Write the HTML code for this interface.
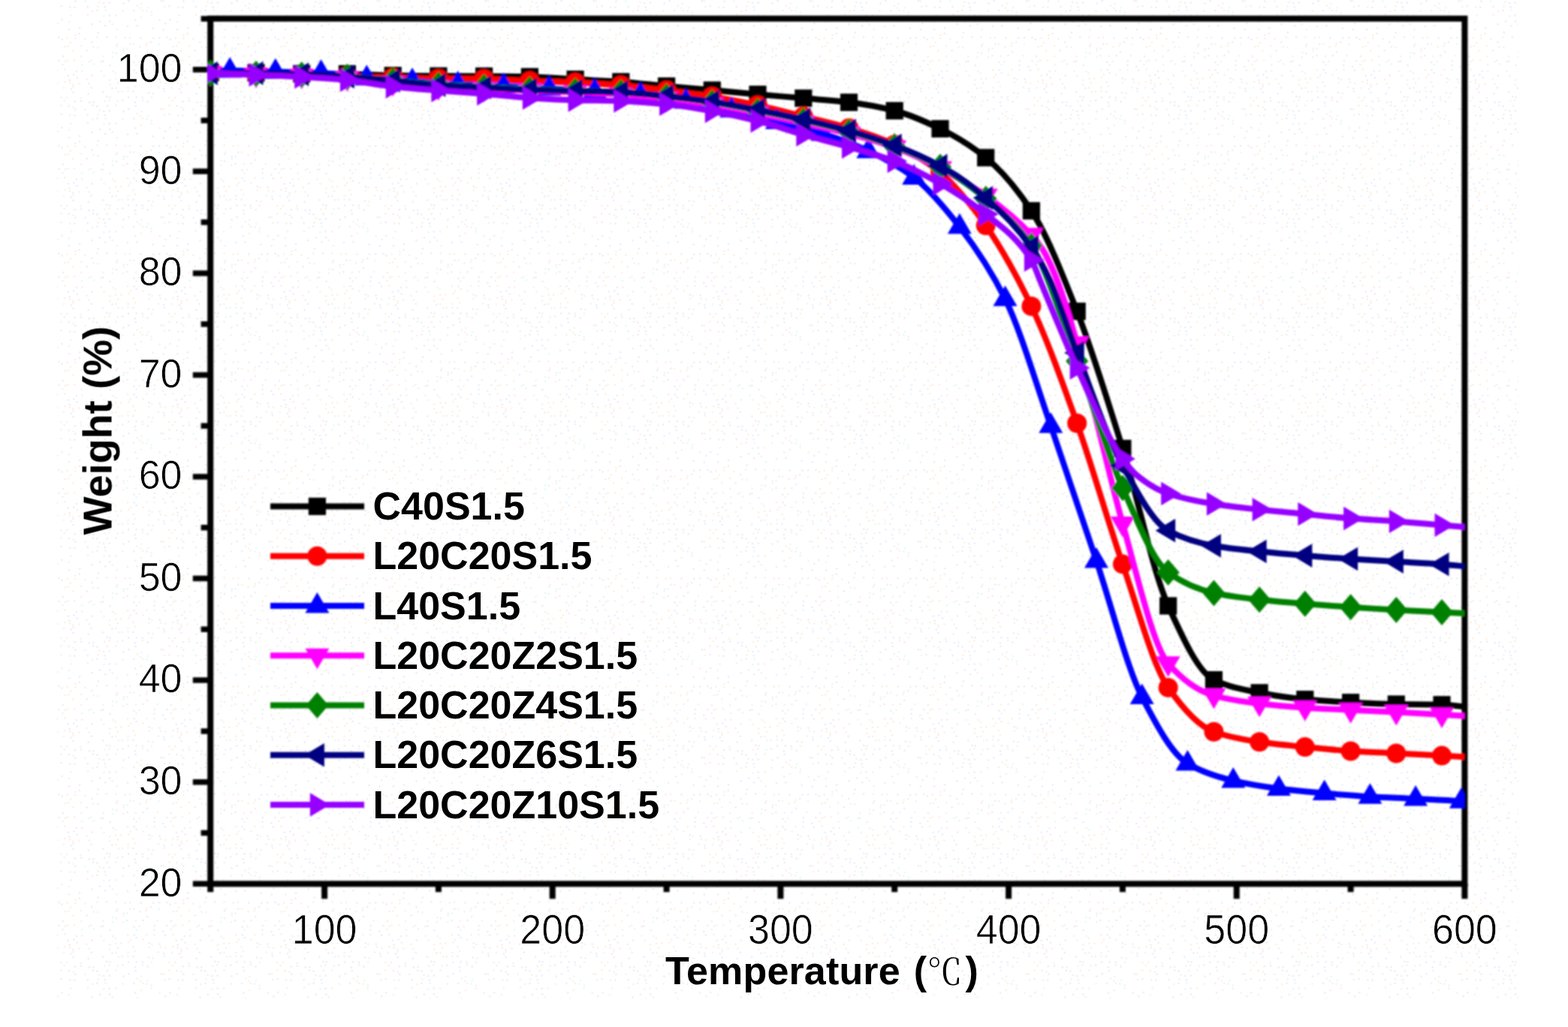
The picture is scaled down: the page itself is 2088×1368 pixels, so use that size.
<!DOCTYPE html>
<html lang="en">
<head>
<meta charset="utf-8">
<title>TGA curves – Weight (%) vs Temperature (℃)</title>
<style>
html,body{margin:0;padding:0;background:#fff;}
body{width:2088px;height:1368px;overflow:hidden;}
svg{display:block;}
text{font-family:"Liberation Sans","Noto Sans CJK SC",sans-serif;fill:#000;}
.tick{font-size:52px;stroke:#fff;stroke-width:0.7px;}
.ttl{font-size:52px;font-weight:bold;}
.leg{font-size:52px;font-weight:bold;}
.deg{font-family:"Liberation Serif","Noto Serif CJK SC",serif;font-weight:normal;}
</style>
</head>
<body>
<svg width="2088" height="1368" viewBox="0 0 2088 1368" role="img" aria-label="Thermogravimetric curves: Weight (%) versus Temperature (℃)">
<defs>
<filter id="soft" filterUnits="userSpaceOnUse" x="0" y="0" width="2088" height="1368"><feGaussianBlur stdDeviation="1.1"/></filter>
<filter id="softT" filterUnits="userSpaceOnUse" x="0" y="0" width="2088" height="1368"><feGaussianBlur stdDeviation="0.75"/></filter>
<clipPath id="plot"><rect x="276.2" y="24.8" width="1674.2" height="1152.5"/></clipPath>
</defs>
<rect width="2088" height="1368" fill="#ffffff"/>
<defs><pattern id="speckle" width="144" height="144" patternUnits="userSpaceOnUse"><circle cx="1.9" cy="3.6" r="1.5" fill="#f1f1fb"/><circle cx="20.5" cy="4.6" r="1.5" fill="#f1f1fb"/><circle cx="27.6" cy="1.3" r="1.5" fill="#f1f1fb"/><circle cx="44.4" cy="4.8" r="1.5" fill="#ebfafa"/><circle cx="70.9" cy="1.2" r="1.5" fill="#f1f1fb"/><circle cx="73.9" cy="1.5" r="1.5" fill="#fdf3ea"/><circle cx="100.4" cy="1.8" r="1.5" fill="#f1f1fb"/><circle cx="113.4" cy="1.8" r="1.5" fill="#ebfafa"/><circle cx="132.5" cy="2.8" r="1.5" fill="#fdf3ea"/><circle cx="138.1" cy="4.1" r="1.5" fill="#f1f1fb"/><circle cx="38.9" cy="7.5" r="1.5" fill="#fdf3ea"/><circle cx="43.1" cy="10.7" r="1.5" fill="#fdf3ea"/><circle cx="53.0" cy="10.1" r="1.5" fill="#ebfafa"/><circle cx="75.1" cy="9.0" r="1.5" fill="#fdf3ea"/><circle cx="81.6" cy="8.1" r="1.5" fill="#f1f1fb"/><circle cx="93.2" cy="9.6" r="1.5" fill="#fdf3ea"/><circle cx="99.3" cy="9.7" r="1.5" fill="#f1f1fb"/><circle cx="116.7" cy="9.0" r="1.5" fill="#f1f1fb"/><circle cx="130.5" cy="8.6" r="1.5" fill="#fdf3ea"/><circle cx="139.7" cy="9.2" r="1.5" fill="#f1f1fb"/><circle cx="19.5" cy="14.4" r="1.5" fill="#fdf3ea"/><circle cx="34.1" cy="13.9" r="1.5" fill="#f1f1fb"/><circle cx="46.0" cy="13.7" r="1.5" fill="#fdf3ea"/><circle cx="51.5" cy="14.5" r="1.5" fill="#ebfafa"/><circle cx="57.8" cy="16.4" r="1.5" fill="#ebfafa"/><circle cx="123.4" cy="14.9" r="1.5" fill="#fdf3ea"/><circle cx="129.4" cy="13.8" r="1.5" fill="#f1f1fb"/><circle cx="140.6" cy="13.4" r="1.5" fill="#ebfafa"/><circle cx="1.6" cy="20.5" r="1.5" fill="#f1f1fb"/><circle cx="10.2" cy="20.5" r="1.5" fill="#fdf3ea"/><circle cx="43.9" cy="22.9" r="1.5" fill="#fdf3ea"/><circle cx="57.6" cy="20.4" r="1.5" fill="#fdf3ea"/><circle cx="94.7" cy="20.4" r="1.5" fill="#ebfafa"/><circle cx="116.9" cy="19.4" r="1.5" fill="#fdf3ea"/><circle cx="138.3" cy="21.2" r="1.5" fill="#ebfafa"/><circle cx="2.3" cy="28.2" r="1.5" fill="#f1f1fb"/><circle cx="36.1" cy="26.4" r="1.5" fill="#f1f1fb"/><circle cx="68.6" cy="26.4" r="1.5" fill="#fdf3ea"/><circle cx="82.3" cy="25.9" r="1.5" fill="#f1f1fb"/><circle cx="91.9" cy="28.9" r="1.5" fill="#ebfafa"/><circle cx="133.0" cy="28.6" r="1.5" fill="#f1f1fb"/><circle cx="5.7" cy="32.3" r="1.5" fill="#fdf3ea"/><circle cx="26.0" cy="35.0" r="1.5" fill="#f1f1fb"/><circle cx="38.4" cy="34.2" r="1.5" fill="#f1f1fb"/><circle cx="76.3" cy="31.1" r="1.5" fill="#f1f1fb"/><circle cx="122.5" cy="32.2" r="1.5" fill="#f1f1fb"/><circle cx="140.3" cy="34.3" r="1.5" fill="#f1f1fb"/><circle cx="11.7" cy="39.3" r="1.5" fill="#ebfafa"/><circle cx="59.6" cy="37.7" r="1.5" fill="#f1f1fb"/><circle cx="73.8" cy="39.5" r="1.5" fill="#f1f1fb"/><circle cx="92.1" cy="39.2" r="1.5" fill="#f1f1fb"/><circle cx="106.1" cy="37.2" r="1.5" fill="#f1f1fb"/><circle cx="100.4" cy="46.8" r="1.5" fill="#fdf3ea"/><circle cx="105.7" cy="44.8" r="1.5" fill="#f1f1fb"/><circle cx="130.8" cy="43.5" r="1.5" fill="#f1f1fb"/><circle cx="10.5" cy="49.5" r="1.5" fill="#fdf3ea"/><circle cx="22.7" cy="50.6" r="1.5" fill="#fdf3ea"/><circle cx="29.0" cy="49.9" r="1.5" fill="#fdf3ea"/><circle cx="43.5" cy="50.4" r="1.5" fill="#f1f1fb"/><circle cx="60.3" cy="50.8" r="1.5" fill="#f1f1fb"/><circle cx="68.1" cy="50.2" r="1.5" fill="#f1f1fb"/><circle cx="78.5" cy="49.9" r="1.5" fill="#f1f1fb"/><circle cx="82.6" cy="52.6" r="1.5" fill="#f1f1fb"/><circle cx="89.8" cy="50.7" r="1.5" fill="#fdf3ea"/><circle cx="100.2" cy="51.1" r="1.5" fill="#fdf3ea"/><circle cx="113.3" cy="51.8" r="1.5" fill="#fdf3ea"/><circle cx="129.1" cy="49.4" r="1.5" fill="#fdf3ea"/><circle cx="142.1" cy="49.3" r="1.5" fill="#f1f1fb"/><circle cx="12.3" cy="58.7" r="1.5" fill="#fdf3ea"/><circle cx="29.3" cy="58.8" r="1.5" fill="#f1f1fb"/><circle cx="34.1" cy="58.7" r="1.5" fill="#fdf3ea"/><circle cx="51.7" cy="57.7" r="1.5" fill="#fdf3ea"/><circle cx="57.1" cy="56.0" r="1.5" fill="#f1f1fb"/><circle cx="68.0" cy="58.9" r="1.5" fill="#ebfafa"/><circle cx="93.9" cy="56.7" r="1.5" fill="#fdf3ea"/><circle cx="122.3" cy="55.9" r="1.5" fill="#f1f1fb"/><circle cx="11.1" cy="61.2" r="1.5" fill="#f1f1fb"/><circle cx="20.8" cy="64.5" r="1.5" fill="#fdf3ea"/><circle cx="25.5" cy="64.4" r="1.5" fill="#ebfafa"/><circle cx="42.5" cy="62.2" r="1.5" fill="#fdf3ea"/><circle cx="50.6" cy="61.0" r="1.5" fill="#fdf3ea"/><circle cx="86.8" cy="62.2" r="1.5" fill="#fdf3ea"/><circle cx="91.0" cy="61.3" r="1.5" fill="#fdf3ea"/><circle cx="108.0" cy="61.0" r="1.5" fill="#fdf3ea"/><circle cx="124.5" cy="62.6" r="1.5" fill="#fdf3ea"/><circle cx="130.4" cy="63.3" r="1.5" fill="#ebfafa"/><circle cx="6.4" cy="70.1" r="1.5" fill="#ebfafa"/><circle cx="11.0" cy="70.9" r="1.5" fill="#f1f1fb"/><circle cx="20.7" cy="67.6" r="1.5" fill="#ebfafa"/><circle cx="52.1" cy="69.0" r="1.5" fill="#f1f1fb"/><circle cx="97.2" cy="67.5" r="1.5" fill="#fdf3ea"/><circle cx="115.7" cy="67.2" r="1.5" fill="#f1f1fb"/><circle cx="5.8" cy="76.0" r="1.5" fill="#ebfafa"/><circle cx="20.2" cy="76.0" r="1.5" fill="#fdf3ea"/><circle cx="25.4" cy="74.1" r="1.5" fill="#f1f1fb"/><circle cx="36.9" cy="74.8" r="1.5" fill="#fdf3ea"/><circle cx="46.5" cy="74.1" r="1.5" fill="#f1f1fb"/><circle cx="65.9" cy="74.0" r="1.5" fill="#fdf3ea"/><circle cx="83.9" cy="74.9" r="1.5" fill="#f1f1fb"/><circle cx="108.1" cy="74.9" r="1.5" fill="#fdf3ea"/><circle cx="137.5" cy="74.9" r="1.5" fill="#fdf3ea"/><circle cx="34.3" cy="82.8" r="1.5" fill="#f1f1fb"/><circle cx="41.5" cy="82.0" r="1.5" fill="#fdf3ea"/><circle cx="61.9" cy="81.0" r="1.5" fill="#f1f1fb"/><circle cx="78.4" cy="80.9" r="1.5" fill="#f1f1fb"/><circle cx="86.7" cy="81.7" r="1.5" fill="#fdf3ea"/><circle cx="89.8" cy="80.4" r="1.5" fill="#fdf3ea"/><circle cx="99.0" cy="80.3" r="1.5" fill="#fdf3ea"/><circle cx="118.6" cy="81.9" r="1.5" fill="#fdf3ea"/><circle cx="121.4" cy="80.6" r="1.5" fill="#ebfafa"/><circle cx="134.6" cy="82.0" r="1.5" fill="#f1f1fb"/><circle cx="137.3" cy="81.6" r="1.5" fill="#f1f1fb"/><circle cx="2.6" cy="87.0" r="1.5" fill="#f1f1fb"/><circle cx="37.6" cy="86.6" r="1.5" fill="#ebfafa"/><circle cx="61.4" cy="86.8" r="1.5" fill="#f1f1fb"/><circle cx="73.3" cy="88.7" r="1.5" fill="#f1f1fb"/><circle cx="83.5" cy="86.1" r="1.5" fill="#fdf3ea"/><circle cx="108.9" cy="86.2" r="1.5" fill="#ebfafa"/><circle cx="124.9" cy="85.3" r="1.5" fill="#ebfafa"/><circle cx="6.4" cy="95.0" r="1.5" fill="#fdf3ea"/><circle cx="26.0" cy="93.2" r="1.5" fill="#fdf3ea"/><circle cx="34.6" cy="93.3" r="1.5" fill="#f1f1fb"/><circle cx="51.5" cy="93.1" r="1.5" fill="#fdf3ea"/><circle cx="61.5" cy="93.0" r="1.5" fill="#ebfafa"/><circle cx="76.0" cy="93.5" r="1.5" fill="#f1f1fb"/><circle cx="86.4" cy="92.5" r="1.5" fill="#fdf3ea"/><circle cx="101.9" cy="94.9" r="1.5" fill="#f1f1fb"/><circle cx="109.3" cy="94.6" r="1.5" fill="#fdf3ea"/><circle cx="134.6" cy="94.7" r="1.5" fill="#ebfafa"/><circle cx="9.7" cy="97.6" r="1.5" fill="#ebfafa"/><circle cx="30.0" cy="99.8" r="1.5" fill="#fdf3ea"/><circle cx="37.7" cy="97.0" r="1.5" fill="#f1f1fb"/><circle cx="46.5" cy="99.6" r="1.5" fill="#fdf3ea"/><circle cx="90.8" cy="100.8" r="1.5" fill="#f1f1fb"/><circle cx="98.3" cy="99.4" r="1.5" fill="#f1f1fb"/><circle cx="122.9" cy="100.4" r="1.5" fill="#f1f1fb"/><circle cx="138.5" cy="100.8" r="1.5" fill="#fdf3ea"/><circle cx="2.2" cy="106.5" r="1.5" fill="#fdf3ea"/><circle cx="10.4" cy="104.7" r="1.5" fill="#fdf3ea"/><circle cx="17.2" cy="104.4" r="1.5" fill="#fdf3ea"/><circle cx="27.4" cy="103.0" r="1.5" fill="#fdf3ea"/><circle cx="54.8" cy="104.2" r="1.5" fill="#f1f1fb"/><circle cx="58.3" cy="106.0" r="1.5" fill="#fdf3ea"/><circle cx="68.7" cy="105.4" r="1.5" fill="#f1f1fb"/><circle cx="92.6" cy="106.7" r="1.5" fill="#f1f1fb"/><circle cx="102.8" cy="103.6" r="1.5" fill="#f1f1fb"/><circle cx="115.7" cy="105.8" r="1.5" fill="#fdf3ea"/><circle cx="2.1" cy="112.7" r="1.5" fill="#fdf3ea"/><circle cx="13.0" cy="110.5" r="1.5" fill="#fdf3ea"/><circle cx="33.5" cy="109.3" r="1.5" fill="#fdf3ea"/><circle cx="54.8" cy="109.8" r="1.5" fill="#fdf3ea"/><circle cx="69.8" cy="109.4" r="1.5" fill="#fdf3ea"/><circle cx="76.2" cy="110.8" r="1.5" fill="#fdf3ea"/><circle cx="86.4" cy="109.1" r="1.5" fill="#fdf3ea"/><circle cx="92.8" cy="110.6" r="1.5" fill="#fdf3ea"/><circle cx="97.4" cy="112.7" r="1.5" fill="#fdf3ea"/><circle cx="105.4" cy="111.4" r="1.5" fill="#fdf3ea"/><circle cx="118.7" cy="111.5" r="1.5" fill="#fdf3ea"/><circle cx="5.3" cy="117.4" r="1.5" fill="#f1f1fb"/><circle cx="10.4" cy="116.9" r="1.5" fill="#fdf3ea"/><circle cx="26.5" cy="116.7" r="1.5" fill="#fdf3ea"/><circle cx="36.0" cy="115.0" r="1.5" fill="#fdf3ea"/><circle cx="66.9" cy="116.4" r="1.5" fill="#ebfafa"/><circle cx="74.2" cy="118.0" r="1.5" fill="#f1f1fb"/><circle cx="84.9" cy="116.9" r="1.5" fill="#ebfafa"/><circle cx="94.9" cy="118.5" r="1.5" fill="#f1f1fb"/><circle cx="97.5" cy="115.4" r="1.5" fill="#fdf3ea"/><circle cx="121.8" cy="116.8" r="1.5" fill="#f1f1fb"/><circle cx="14.0" cy="122.2" r="1.5" fill="#ebfafa"/><circle cx="18.5" cy="122.0" r="1.5" fill="#fdf3ea"/><circle cx="26.5" cy="121.6" r="1.5" fill="#ebfafa"/><circle cx="33.4" cy="122.0" r="1.5" fill="#f1f1fb"/><circle cx="53.9" cy="123.6" r="1.5" fill="#f1f1fb"/><circle cx="59.8" cy="124.3" r="1.5" fill="#fdf3ea"/><circle cx="74.8" cy="121.5" r="1.5" fill="#f1f1fb"/><circle cx="97.5" cy="123.1" r="1.5" fill="#f1f1fb"/><circle cx="117.7" cy="124.8" r="1.5" fill="#f1f1fb"/><circle cx="137.2" cy="122.4" r="1.5" fill="#f1f1fb"/><circle cx="2.5" cy="129.4" r="1.5" fill="#f1f1fb"/><circle cx="27.2" cy="129.5" r="1.5" fill="#f1f1fb"/><circle cx="37.8" cy="129.2" r="1.5" fill="#f1f1fb"/><circle cx="45.8" cy="129.7" r="1.5" fill="#f1f1fb"/><circle cx="58.0" cy="129.8" r="1.5" fill="#fdf3ea"/><circle cx="81.3" cy="130.0" r="1.5" fill="#fdf3ea"/><circle cx="89.1" cy="130.1" r="1.5" fill="#fdf3ea"/><circle cx="107.4" cy="130.8" r="1.5" fill="#fdf3ea"/><circle cx="142.3" cy="128.8" r="1.5" fill="#f1f1fb"/><circle cx="1.3" cy="133.6" r="1.5" fill="#fdf3ea"/><circle cx="12.7" cy="134.5" r="1.5" fill="#ebfafa"/><circle cx="19.1" cy="133.6" r="1.5" fill="#f1f1fb"/><circle cx="35.9" cy="136.2" r="1.5" fill="#f1f1fb"/><circle cx="46.0" cy="133.2" r="1.5" fill="#fdf3ea"/><circle cx="52.6" cy="135.5" r="1.5" fill="#f1f1fb"/><circle cx="85.7" cy="133.9" r="1.5" fill="#fdf3ea"/><circle cx="99.8" cy="135.3" r="1.5" fill="#f1f1fb"/><circle cx="108.1" cy="134.5" r="1.5" fill="#f1f1fb"/><circle cx="118.8" cy="136.3" r="1.5" fill="#f1f1fb"/><circle cx="124.4" cy="136.0" r="1.5" fill="#f1f1fb"/><circle cx="139.3" cy="134.8" r="1.5" fill="#fdf3ea"/><circle cx="10.5" cy="140.6" r="1.5" fill="#fdf3ea"/><circle cx="36.7" cy="141.0" r="1.5" fill="#f1f1fb"/><circle cx="81.4" cy="140.4" r="1.5" fill="#fdf3ea"/><circle cx="91.7" cy="141.0" r="1.5" fill="#f1f1fb"/><circle cx="97.8" cy="142.7" r="1.5" fill="#fdf3ea"/><circle cx="124.0" cy="140.5" r="1.5" fill="#f1f1fb"/><circle cx="129.4" cy="141.5" r="1.5" fill="#f1f1fb"/><circle cx="142.9" cy="141.0" r="1.5" fill="#f1f1fb"/></pattern></defs>
<g id="paper" filter="url(#softT)"><rect x="76" y="0" width="1946" height="1330" fill="url(#speckle)"/></g>
<g id="gfx" filter="url(#soft)">
<g id="axes" stroke="#000" fill="none">
<rect x="280.2" y="24.8" width="1670.2" height="1152.5" stroke-width="8.0"/>
<path d="M280.2,1177.2H256.8M280.2,1041.7H256.8M280.2,906.1H256.8M280.2,770.6H256.8M280.2,635H256.8M280.2,499.4H256.8M280.2,363.9H256.8M280.2,228.3H256.8M280.2,92.8H256.8" stroke-width="7.5"/>
<path d="M280.2,1109.5H267.6M280.2,973.9H267.6M280.2,838.3H267.6M280.2,702.8H267.6M280.2,567.2H267.6M280.2,431.7H267.6M280.2,296.1H267.6M280.2,160.5H267.6M280.2,25H267.6" stroke-width="7.5"/>
<path d="M432.1,1177.2V1197.2M735.7,1177.2V1197.2M1039.4,1177.2V1197.2M1343.1,1177.2V1197.2M1646.7,1177.2V1197.2M1950.4,1177.2V1197.2" stroke-width="8"/>
<path d="M280.2,1177.2V1188.2M583.9,1177.2V1188.2M887.6,1177.2V1188.2M1191.2,1177.2V1188.2M1494.9,1177.2V1188.2M1798.6,1177.2V1188.2" stroke-width="8"/>
</g>
<g id="series" clip-path="url(#plot)">
<g id="s-black">
<path d="M280.2,96.5C300.5,96.5 320.7,96.7 341,97C361.2,97.2 381.5,98 401.7,98.2C422,98.3 442.2,98.3 462.4,98.4C482.7,98.6 502.9,100.3 523.2,100.6C543.4,100.9 563.7,101 583.9,101.2C604.2,101.3 624.4,101.3 644.6,101.4C664.9,101.6 685.1,101.8 705.4,102.2C725.6,102.7 745.9,104.5 766.1,105.6C786.4,106.7 806.6,107.5 826.8,108.9C847.1,110.3 867.3,112.8 887.6,114.7C907.8,116.6 928.1,118.3 948.3,120.1C968.6,122 988.8,123.9 1009,125.7C1029.3,127.5 1049.5,129.1 1069.8,130.8C1090,132.6 1110.3,133.8 1130.5,136.3C1150.8,138.7 1171,142.4 1191.2,147.5C1211.5,152.6 1231.7,161.7 1252,171.5C1272.2,181.4 1292.5,193.4 1312.7,210C1333,226.6 1353.2,249.9 1373.4,280.8C1393.7,311.6 1413.9,363.2 1434.2,414.7C1454.4,466.2 1474.7,532.4 1494.9,597.4C1515.1,662.5 1535.4,762.3 1555.6,807C1575.9,851.7 1596.1,895.8 1616.4,905.6C1636.6,915.4 1656.9,918.9 1677.1,922.8C1697.3,926.7 1717.6,929.8 1737.8,931.6C1758.1,933.5 1778.3,934.7 1798.6,935.7C1818.8,936.7 1839.1,937.6 1859.3,938C1879.5,938.3 1899.8,938.2 1920,938.7C1930.2,938.9 1940.3,940.2 1950.4,941.4" fill="none" stroke="#000000" stroke-width="8.0" stroke-linejoin="round"/>
<rect x="268.6" y="84.9" width="23.2" height="23.2" fill="#000000"/><rect x="329.4" y="85.4" width="23.2" height="23.2" fill="#000000"/><rect x="390.1" y="86.6" width="23.2" height="23.2" fill="#000000"/><rect x="450.8" y="86.8" width="23.2" height="23.2" fill="#000000"/><rect x="511.6" y="89" width="23.2" height="23.2" fill="#000000"/><rect x="572.3" y="89.6" width="23.2" height="23.2" fill="#000000"/><rect x="633" y="89.8" width="23.2" height="23.2" fill="#000000"/><rect x="693.8" y="90.6" width="23.2" height="23.2" fill="#000000"/><rect x="754.5" y="94" width="23.2" height="23.2" fill="#000000"/><rect x="815.2" y="97.3" width="23.2" height="23.2" fill="#000000"/><rect x="876" y="103.1" width="23.2" height="23.2" fill="#000000"/><rect x="936.7" y="108.5" width="23.2" height="23.2" fill="#000000"/><rect x="997.4" y="114.1" width="23.2" height="23.2" fill="#000000"/><rect x="1058.2" y="119.2" width="23.2" height="23.2" fill="#000000"/><rect x="1118.9" y="124.7" width="23.2" height="23.2" fill="#000000"/><rect x="1179.6" y="135.9" width="23.2" height="23.2" fill="#000000"/><rect x="1240.4" y="159.9" width="23.2" height="23.2" fill="#000000"/><rect x="1301.1" y="198.4" width="23.2" height="23.2" fill="#000000"/><rect x="1361.8" y="269.2" width="23.2" height="23.2" fill="#000000"/><rect x="1422.6" y="403.1" width="23.2" height="23.2" fill="#000000"/><rect x="1483.3" y="585.8" width="23.2" height="23.2" fill="#000000"/><rect x="1544" y="795.4" width="23.2" height="23.2" fill="#000000"/><rect x="1604.8" y="894" width="23.2" height="23.2" fill="#000000"/><rect x="1665.5" y="911.2" width="23.2" height="23.2" fill="#000000"/><rect x="1726.2" y="920" width="23.2" height="23.2" fill="#000000"/><rect x="1787" y="924.1" width="23.2" height="23.2" fill="#000000"/><rect x="1847.7" y="926.4" width="23.2" height="23.2" fill="#000000"/><rect x="1908.4" y="927.1" width="23.2" height="23.2" fill="#000000"/>
</g>
<g id="s-red">
<path d="M280.2,97.5C300.5,97.6 320.7,97.9 341,98.2C361.2,98.5 381.5,99 401.7,99.5C422,100.1 442.2,100.9 462.4,101.6C482.7,102.2 502.9,103.1 523.2,103.6C543.4,104.1 563.7,104.8 583.9,105C604.2,105.1 624.4,105.1 644.6,105.2C664.9,105.4 685.1,107.2 705.4,107.9C725.6,108.7 745.9,109.1 766.1,110C786.4,110.8 806.6,112.1 826.8,113.8C847.1,115.4 867.3,118.1 887.6,120.5C907.8,123 928.1,125.5 948.3,128.7C968.6,131.9 988.8,135.9 1009,140.2C1029.3,144.5 1049.5,150 1069.8,155.1C1090,160.2 1110.3,164.5 1130.5,170.6C1150.8,176.6 1171,183.2 1191.2,192.4C1211.5,201.6 1231.7,213.7 1252,229.7C1262.1,237.7 1272.2,249.3 1282.3,260.8C1292.5,272.4 1302.6,285.3 1312.7,300.2C1333,329.9 1353.2,365.5 1373.4,407.9C1393.7,450.4 1413.9,507.1 1434.2,563.8C1454.4,620.6 1474.7,693 1494.9,751.4C1515.1,809.9 1535.4,887 1555.6,915.9C1575.9,944.8 1596.1,967.4 1616.4,974.7C1636.6,982.1 1656.9,985.3 1677.1,988.3C1697.3,991.3 1717.6,993 1737.8,995.1C1758.1,997.1 1778.3,999.2 1798.6,1000.5C1818.8,1001.8 1839.1,1002.4 1859.3,1003.5C1879.5,1004.5 1899.8,1005.5 1920,1006.6C1930.2,1007.1 1940.3,1007.7 1950.4,1008.2" fill="none" stroke="#ff0000" stroke-width="8.0" stroke-linejoin="round"/>
<circle cx="280.2" cy="97.5" r="13" fill="#ff0000"/><circle cx="341" cy="98.2" r="13" fill="#ff0000"/><circle cx="401.7" cy="99.5" r="13" fill="#ff0000"/><circle cx="462.4" cy="101.6" r="13" fill="#ff0000"/><circle cx="523.2" cy="103.6" r="13" fill="#ff0000"/><circle cx="583.9" cy="105" r="13" fill="#ff0000"/><circle cx="644.6" cy="105.2" r="13" fill="#ff0000"/><circle cx="705.4" cy="107.9" r="13" fill="#ff0000"/><circle cx="766.1" cy="110" r="13" fill="#ff0000"/><circle cx="826.8" cy="113.8" r="13" fill="#ff0000"/><circle cx="887.6" cy="120.5" r="13" fill="#ff0000"/><circle cx="948.3" cy="128.7" r="13" fill="#ff0000"/><circle cx="1009" cy="140.2" r="13" fill="#ff0000"/><circle cx="1069.8" cy="155.1" r="13" fill="#ff0000"/><circle cx="1130.5" cy="170.6" r="13" fill="#ff0000"/><circle cx="1191.2" cy="192.4" r="13" fill="#ff0000"/><circle cx="1252" cy="229.7" r="13" fill="#ff0000"/><circle cx="1312.7" cy="300.2" r="13" fill="#ff0000"/><circle cx="1373.4" cy="407.9" r="13" fill="#ff0000"/><circle cx="1434.2" cy="563.8" r="13" fill="#ff0000"/><circle cx="1494.9" cy="751.4" r="13" fill="#ff0000"/><circle cx="1555.6" cy="915.9" r="13" fill="#ff0000"/><circle cx="1616.4" cy="974.7" r="13" fill="#ff0000"/><circle cx="1677.1" cy="988.3" r="13" fill="#ff0000"/><circle cx="1737.8" cy="995.1" r="13" fill="#ff0000"/><circle cx="1798.6" cy="1000.5" r="13" fill="#ff0000"/><circle cx="1859.3" cy="1003.5" r="13" fill="#ff0000"/><circle cx="1920" cy="1006.6" r="13" fill="#ff0000"/>
</g>
<g id="s-blue">
<path d="M280.2,94.1C288.9,94.1 297.5,94.1 306.1,94.1C326.3,94.1 346.5,95 366.8,95.5C387,96 407.3,96.2 427.5,97.1C447.8,98 468,102.7 488.3,104.3C508.5,105.9 528.7,106.6 549,107.9C569.2,109.3 589.5,111.2 609.7,112.3C630,113.3 650.2,113.8 670.5,114.7C690.7,115.6 710.9,116.8 731.2,118C751.4,119.1 771.7,120.2 791.9,121.6C812.2,123 832.4,124.5 852.7,126.6C872.9,128.7 893.1,131.9 913.4,135.2C933.6,138.5 953.9,142.5 974.1,147C994.4,151.5 1014.6,157.4 1034.9,162.6C1055.1,167.8 1075.3,172 1095.6,178.2C1115.8,184.4 1136.1,191.9 1156.3,201.2C1176.6,210.5 1196.8,221.2 1217.1,236.4C1237.3,251.7 1257.5,276 1277.8,302.1C1298,328.1 1318.3,357.4 1338.5,398.3C1358.8,439.2 1379,509.1 1399.3,567.2C1419.5,625.3 1439.7,686.9 1460,747.1C1480.2,807.3 1500.5,888.7 1520.7,928.4C1541,968 1561.2,1004.9 1581.4,1017C1601.7,1029.2 1621.9,1035.1 1642.2,1039.9C1662.4,1044.7 1682.7,1047.9 1702.9,1050.5C1723.2,1053.1 1743.4,1054.8 1763.6,1056.6C1783.9,1058.3 1804.1,1060.1 1824.4,1061.2C1844.6,1062.3 1864.9,1062.9 1885.1,1063.9C1905.4,1064.9 1925.6,1065.5 1945.8,1067.2C1947.4,1067.3 1948.9,1067.5 1950.4,1067.7" fill="none" stroke="#0000ff" stroke-width="8.0" stroke-linejoin="round"/>
<polygon points="306.1,76.1 322.1,103.6 290.1,103.6" fill="#0000ff"/><polygon points="366.8,77.5 382.8,105 350.8,105" fill="#0000ff"/><polygon points="427.5,79.1 443.5,106.6 411.5,106.6" fill="#0000ff"/><polygon points="488.3,86.3 504.3,113.8 472.3,113.8" fill="#0000ff"/><polygon points="549,89.9 565,117.4 533,117.4" fill="#0000ff"/><polygon points="609.7,94.3 625.7,121.8 593.7,121.8" fill="#0000ff"/><polygon points="670.5,96.7 686.5,124.2 654.5,124.2" fill="#0000ff"/><polygon points="731.2,100 747.2,127.5 715.2,127.5" fill="#0000ff"/><polygon points="791.9,103.6 807.9,131.1 775.9,131.1" fill="#0000ff"/><polygon points="852.7,108.6 868.7,136.1 836.7,136.1" fill="#0000ff"/><polygon points="913.4,117.2 929.4,144.7 897.4,144.7" fill="#0000ff"/><polygon points="974.1,129 990.1,156.5 958.1,156.5" fill="#0000ff"/><polygon points="1034.9,144.6 1050.9,172.1 1018.9,172.1" fill="#0000ff"/><polygon points="1095.6,160.2 1111.6,187.7 1079.6,187.7" fill="#0000ff"/><polygon points="1156.3,183.2 1172.3,210.7 1140.3,210.7" fill="#0000ff"/><polygon points="1217.1,218.4 1233.1,245.9 1201.1,245.9" fill="#0000ff"/><polygon points="1277.8,284.1 1293.8,311.6 1261.8,311.6" fill="#0000ff"/><polygon points="1338.5,380.3 1354.5,407.8 1322.5,407.8" fill="#0000ff"/><polygon points="1399.3,549.2 1415.3,576.7 1383.3,576.7" fill="#0000ff"/><polygon points="1460,729.1 1476,756.6 1444,756.6" fill="#0000ff"/><polygon points="1520.7,910.4 1536.7,937.9 1504.7,937.9" fill="#0000ff"/><polygon points="1581.4,999 1597.4,1026.5 1565.4,1026.5" fill="#0000ff"/><polygon points="1642.2,1021.9 1658.2,1049.4 1626.2,1049.4" fill="#0000ff"/><polygon points="1702.9,1032.5 1718.9,1060 1686.9,1060" fill="#0000ff"/><polygon points="1763.6,1038.6 1779.6,1066.1 1747.6,1066.1" fill="#0000ff"/><polygon points="1824.4,1043.2 1840.4,1070.7 1808.4,1070.7" fill="#0000ff"/><polygon points="1885.1,1045.9 1901.1,1073.4 1869.1,1073.4" fill="#0000ff"/><polygon points="1945.8,1049.2 1961.8,1076.7 1929.8,1076.7" fill="#0000ff"/>
</g>
<g id="s-magenta">
<path d="M280.2,97.5C300.5,98.3 320.7,99 341,99.5C361.2,100.1 381.5,100.2 401.7,100.9C422,101.5 442.2,102.8 462.4,104.3C482.7,105.7 502.9,108.4 523.2,110.4C543.4,112.3 563.7,115 583.9,116.1C604.2,117.1 624.4,117.5 644.6,118.2C664.9,119 685.1,119.8 705.4,120.5C725.6,121.3 745.9,122.1 766.1,123C786.4,123.9 806.6,124.6 826.8,126C847.1,127.3 867.3,129.6 887.6,131.8C907.8,134 928.1,136.4 948.3,139.5C968.6,142.6 988.8,147 1009,151C1029.3,155.1 1049.5,159.4 1069.8,163.9C1090,168.4 1110.3,172.8 1130.5,178.2C1150.8,183.5 1171,189.1 1191.2,196.5C1211.5,203.8 1231.7,213.7 1252,224.2C1272.2,234.8 1292.5,246.5 1312.7,260.8C1333,275.2 1353.2,291.2 1373.4,313C1378.5,318.5 1383.6,324.7 1388.6,332.7C1393.7,340.7 1398.7,351.9 1403.8,363.9C1408.9,375.8 1413.9,390.5 1419,405.9C1424,421.3 1429.1,439 1434.2,457.4C1444.3,494.1 1454.4,538.1 1464.5,578.1C1474.7,618.1 1484.8,662 1494.9,697.4C1515.1,768.1 1535.4,860.6 1555.6,883.8C1575.9,906.9 1596.1,920.7 1616.4,926.5C1636.6,932.2 1656.9,934.9 1677.1,937.3C1697.3,939.7 1717.6,941.4 1737.8,942.7C1758.1,944 1778.3,944.7 1798.6,945.7C1818.8,946.7 1839.1,947.5 1859.3,948.6C1879.5,949.6 1899.8,950.8 1920,951.9C1930.2,952.5 1940.3,953 1950.4,953.6" fill="none" stroke="#ff00ff" stroke-width="8.0" stroke-linejoin="round"/>
<polygon points="280.2,115.5 296.2,88 264.2,88" fill="#ff00ff"/><polygon points="341,117.5 357,90 325,90" fill="#ff00ff"/><polygon points="401.7,118.9 417.7,91.4 385.7,91.4" fill="#ff00ff"/><polygon points="462.4,122.3 478.4,94.8 446.4,94.8" fill="#ff00ff"/><polygon points="523.2,128.4 539.2,100.9 507.2,100.9" fill="#ff00ff"/><polygon points="583.9,134.1 599.9,106.6 567.9,106.6" fill="#ff00ff"/><polygon points="644.6,136.2 660.6,108.7 628.6,108.7" fill="#ff00ff"/><polygon points="705.4,138.5 721.4,111 689.4,111" fill="#ff00ff"/><polygon points="766.1,141 782.1,113.5 750.1,113.5" fill="#ff00ff"/><polygon points="826.8,144 842.8,116.5 810.8,116.5" fill="#ff00ff"/><polygon points="887.6,149.8 903.6,122.3 871.6,122.3" fill="#ff00ff"/><polygon points="948.3,157.5 964.3,130 932.3,130" fill="#ff00ff"/><polygon points="1009,169 1025,141.5 993,141.5" fill="#ff00ff"/><polygon points="1069.8,181.9 1085.8,154.4 1053.8,154.4" fill="#ff00ff"/><polygon points="1130.5,196.2 1146.5,168.7 1114.5,168.7" fill="#ff00ff"/><polygon points="1191.2,214.5 1207.2,187 1175.2,187" fill="#ff00ff"/><polygon points="1252,242.2 1268,214.7 1236,214.7" fill="#ff00ff"/><polygon points="1312.7,278.8 1328.7,251.3 1296.7,251.3" fill="#ff00ff"/><polygon points="1373.4,331 1389.4,303.5 1357.4,303.5" fill="#ff00ff"/><polygon points="1434.2,475.4 1450.2,447.9 1418.2,447.9" fill="#ff00ff"/><polygon points="1494.9,715.4 1510.9,687.9 1478.9,687.9" fill="#ff00ff"/><polygon points="1555.6,901.8 1571.6,874.3 1539.6,874.3" fill="#ff00ff"/><polygon points="1616.4,944.5 1632.4,917 1600.4,917" fill="#ff00ff"/><polygon points="1677.1,955.3 1693.1,927.8 1661.1,927.8" fill="#ff00ff"/><polygon points="1737.8,960.7 1753.8,933.2 1721.8,933.2" fill="#ff00ff"/><polygon points="1798.6,963.7 1814.6,936.2 1782.6,936.2" fill="#ff00ff"/><polygon points="1859.3,966.6 1875.3,939.1 1843.3,939.1" fill="#ff00ff"/><polygon points="1920,969.9 1936,942.4 1904,942.4" fill="#ff00ff"/>
</g>
<g id="s-green">
<path d="M280.2,97.5C300.5,97.6 320.7,97.9 341,98.2C361.2,98.5 381.5,98.9 401.7,99.5C422,100.1 442.2,101.1 462.4,102.2C482.7,103.4 502.9,105.3 523.2,107C543.4,108.7 563.7,111.1 583.9,112.4C604.2,113.7 624.4,114.5 644.6,115.5C664.9,116.6 685.1,117.9 705.4,118.8C725.6,119.6 745.9,120.1 766.1,120.8C786.4,121.5 806.6,121.9 826.8,122.8C847.1,123.8 867.3,126.1 887.6,128.3C907.8,130.4 928.1,133.3 948.3,136.4C968.6,139.5 988.8,143.7 1009,147.7C1029.3,151.6 1049.5,155.7 1069.8,160.3C1090,164.8 1110.3,169.5 1130.5,175.2C1150.8,180.9 1171,187.4 1191.2,195.1C1211.5,202.8 1231.7,211.2 1252,222.2C1272.2,233.3 1292.5,248 1312.7,264.9C1333,281.8 1353.2,297.7 1373.4,327.3C1393.7,356.9 1413.9,427.5 1434.2,481.1C1454.4,534.8 1474.7,604.9 1494.9,649.9C1515.1,695 1535.4,747.9 1555.6,762.6C1575.9,777.3 1596.1,785.5 1616.4,789.9C1636.6,794.4 1656.9,796.5 1677.1,798.8C1697.3,801 1717.6,802.7 1737.8,804.3C1758.1,806 1778.3,807.4 1798.6,808.8C1818.8,810.1 1839.1,811.3 1859.3,812.5C1879.5,813.6 1899.8,814.6 1920,815.6C1930.2,816.1 1940.3,816.6 1950.4,817.1" fill="none" stroke="#008000" stroke-width="8.0" stroke-linejoin="round"/>
<polygon points="280.2,80 295.2,97.5 280.2,115 265.2,97.5" fill="#008000"/><polygon points="341,80.7 356,98.2 341,115.7 326,98.2" fill="#008000"/><polygon points="401.7,82 416.7,99.5 401.7,117 386.7,99.5" fill="#008000"/><polygon points="462.4,84.7 477.4,102.2 462.4,119.7 447.4,102.2" fill="#008000"/><polygon points="523.2,89.5 538.2,107 523.2,124.5 508.2,107" fill="#008000"/><polygon points="583.9,94.9 598.9,112.4 583.9,129.9 568.9,112.4" fill="#008000"/><polygon points="644.6,98 659.6,115.5 644.6,133 629.6,115.5" fill="#008000"/><polygon points="705.4,101.3 720.4,118.8 705.4,136.3 690.4,118.8" fill="#008000"/><polygon points="766.1,103.3 781.1,120.8 766.1,138.3 751.1,120.8" fill="#008000"/><polygon points="826.8,105.3 841.8,122.8 826.8,140.3 811.8,122.8" fill="#008000"/><polygon points="887.6,110.8 902.6,128.3 887.6,145.8 872.6,128.3" fill="#008000"/><polygon points="948.3,118.9 963.3,136.4 948.3,153.9 933.3,136.4" fill="#008000"/><polygon points="1009,130.2 1024,147.7 1009,165.2 994,147.7" fill="#008000"/><polygon points="1069.8,142.8 1084.8,160.3 1069.8,177.8 1054.8,160.3" fill="#008000"/><polygon points="1130.5,157.7 1145.5,175.2 1130.5,192.7 1115.5,175.2" fill="#008000"/><polygon points="1191.2,177.6 1206.2,195.1 1191.2,212.6 1176.2,195.1" fill="#008000"/><polygon points="1252,204.7 1267,222.2 1252,239.7 1237,222.2" fill="#008000"/><polygon points="1312.7,247.4 1327.7,264.9 1312.7,282.4 1297.7,264.9" fill="#008000"/><polygon points="1373.4,309.8 1388.4,327.3 1373.4,344.8 1358.4,327.3" fill="#008000"/><polygon points="1434.2,463.6 1449.2,481.1 1434.2,498.6 1419.2,481.1" fill="#008000"/><polygon points="1494.9,632.4 1509.9,649.9 1494.9,667.4 1479.9,649.9" fill="#008000"/><polygon points="1555.6,745.1 1570.6,762.6 1555.6,780.1 1540.6,762.6" fill="#008000"/><polygon points="1616.4,772.4 1631.4,789.9 1616.4,807.4 1601.4,789.9" fill="#008000"/><polygon points="1677.1,781.3 1692.1,798.8 1677.1,816.3 1662.1,798.8" fill="#008000"/><polygon points="1737.8,786.8 1752.8,804.3 1737.8,821.8 1722.8,804.3" fill="#008000"/><polygon points="1798.6,791.3 1813.6,808.8 1798.6,826.3 1783.6,808.8" fill="#008000"/><polygon points="1859.3,795 1874.3,812.5 1859.3,830 1844.3,812.5" fill="#008000"/><polygon points="1920,798.1 1935,815.6 1920,833.1 1905,815.6" fill="#008000"/>
</g>
<g id="s-navy">
<path d="M280.2,97.5C300.5,97.5 320.7,97.5 341,97.5C361.2,97.5 381.5,98.3 401.7,99C422,99.7 442.2,100.9 462.4,102.2C482.7,103.6 502.9,105.5 523.2,107.4C543.4,109.2 563.7,112 583.9,113.4C604.2,114.7 624.4,115.4 644.6,116.5C664.9,117.5 685.1,118.9 705.4,119.6C725.6,120.3 745.9,120.7 766.1,121.2C786.4,121.8 806.6,122 826.8,122.8C847.1,123.7 867.3,126 887.6,128C907.8,130 928.1,132.5 948.3,135.5C968.6,138.4 988.8,142.4 1009,146.3C1029.3,150.2 1049.5,154.6 1069.8,159.2C1090,163.8 1110.3,168.4 1130.5,174.1C1150.8,179.7 1171,186.1 1191.2,193.7C1211.5,201.3 1231.7,209.8 1252,220.9C1272.2,231.9 1292.5,246.3 1312.7,263.6C1333,280.8 1353.2,301.1 1373.4,329.3C1381.7,340.9 1390,355.9 1398.3,373.6C1404.3,386.4 1410.3,404.4 1416.3,420.4C1422.2,436.5 1428.2,454.3 1434.2,470C1454.4,523.4 1474.7,583.4 1494.9,620.1C1515.1,656.7 1535.4,695.9 1555.6,706.8C1575.9,717.8 1596.1,723.4 1616.4,727C1636.6,730.7 1656.9,732.4 1677.1,734.5C1697.3,736.6 1717.6,738.4 1737.8,740.1C1758.1,741.7 1778.3,743.2 1798.6,744.5C1818.8,745.8 1839.1,746.9 1859.3,748.1C1879.5,749.3 1899.8,750.3 1920,751.7C1930.2,752.4 1940.3,753.4 1950.4,754.3" fill="none" stroke="#000080" stroke-width="8.0" stroke-linejoin="round"/>
<polygon points="263.2,97.5 289.8,81.7 289.8,113.3" fill="#000080"/><polygon points="324,97.5 350.5,81.7 350.5,113.3" fill="#000080"/><polygon points="384.7,99 411.2,83.2 411.2,114.8" fill="#000080"/><polygon points="445.4,102.2 471.9,86.4 471.9,118" fill="#000080"/><polygon points="506.2,107.4 532.7,91.6 532.7,123.2" fill="#000080"/><polygon points="566.9,113.4 593.4,97.6 593.4,129.2" fill="#000080"/><polygon points="627.6,116.5 654.1,100.7 654.1,132.3" fill="#000080"/><polygon points="688.4,119.6 714.9,103.8 714.9,135.4" fill="#000080"/><polygon points="749.1,121.2 775.6,105.4 775.6,137" fill="#000080"/><polygon points="809.8,122.8 836.3,107 836.3,138.6" fill="#000080"/><polygon points="870.6,128 897.1,112.2 897.1,143.8" fill="#000080"/><polygon points="931.3,135.5 957.8,119.7 957.8,151.3" fill="#000080"/><polygon points="992,146.3 1018.5,130.5 1018.5,162.1" fill="#000080"/><polygon points="1052.8,159.2 1079.3,143.4 1079.3,175" fill="#000080"/><polygon points="1113.5,174.1 1140,158.3 1140,189.9" fill="#000080"/><polygon points="1174.2,193.7 1200.7,177.9 1200.7,209.5" fill="#000080"/><polygon points="1235,220.9 1261.5,205.1 1261.5,236.7" fill="#000080"/><polygon points="1295.7,263.6 1322.2,247.8 1322.2,279.4" fill="#000080"/><polygon points="1356.4,329.3 1382.9,313.5 1382.9,345.1" fill="#000080"/><polygon points="1417.2,470 1443.7,454.2 1443.7,485.8" fill="#000080"/><polygon points="1477.9,620.1 1504.4,604.3 1504.4,635.9" fill="#000080"/><polygon points="1538.6,706.8 1565.1,691 1565.1,722.6" fill="#000080"/><polygon points="1599.4,727 1625.9,711.2 1625.9,742.8" fill="#000080"/><polygon points="1660.1,734.5 1686.6,718.7 1686.6,750.3" fill="#000080"/><polygon points="1720.8,740.1 1747.3,724.3 1747.3,755.9" fill="#000080"/><polygon points="1781.6,744.5 1808.1,728.7 1808.1,760.3" fill="#000080"/><polygon points="1842.3,748.1 1868.8,732.3 1868.8,763.9" fill="#000080"/><polygon points="1903,751.7 1929.5,735.9 1929.5,767.5" fill="#000080"/>
</g>
<g id="s-purple">
<path d="M280.2,97.5C300.5,98.1 320.7,98.8 341,99.7C361.2,100.5 381.5,101.4 401.7,102.5C422,103.6 442.2,104.8 462.4,106.7C482.7,108.6 502.9,113.2 523.2,115.4C543.4,117.5 563.7,118.9 583.9,120.5C604.2,122.1 624.4,123.4 644.6,125C664.9,126.6 685.1,129.2 705.4,130.4C725.6,131.7 745.9,132.9 766.1,133.4C786.4,133.9 806.6,133.9 826.8,134.5C847.1,135.1 867.3,136.9 887.6,138.8C907.8,140.8 928.1,144.4 948.3,148.1C968.6,151.7 988.8,156.1 1009,161.2C1029.3,166.3 1049.5,173.8 1069.8,179.5C1090,185.3 1110.3,189.9 1130.5,195.8C1150.8,201.6 1171,207 1191.2,214.8C1211.5,222.5 1231.7,233.1 1252,244.6C1272.2,256.1 1292.5,269 1312.7,285.2C1333,301.5 1353.2,314.8 1373.4,346.3C1377.3,352.2 1381.1,364.4 1385,373.6C1391.5,389.1 1397.9,405 1404.4,420.4C1414.3,444 1424.3,468.4 1434.2,489.9C1454.4,533.9 1474.7,583.5 1494.9,611.3C1502,621 1509.1,629.5 1516.2,635C1529.3,645.3 1542.5,653.1 1555.6,657.5C1575.9,664.3 1596.1,668.1 1616.4,671.3C1636.6,674.6 1656.9,676.6 1677.1,678.8C1697.3,681 1717.6,682.8 1737.8,684.8C1758.1,686.7 1778.3,689 1798.6,690.6C1818.8,692.1 1839.1,693 1859.3,694.5C1879.5,696 1899.8,697.9 1920,699.5C1930.2,700.4 1940.3,701.2 1950.4,702" fill="none" stroke="#9600ff" stroke-width="8.0" stroke-linejoin="round"/>
<polygon points="297.2,97.5 270.8,81.7 270.8,113.3" fill="#9600ff"/><polygon points="358,99.7 331.5,83.9 331.5,115.5" fill="#9600ff"/><polygon points="418.7,102.5 392.2,86.7 392.2,118.3" fill="#9600ff"/><polygon points="479.4,106.7 452.9,90.9 452.9,122.5" fill="#9600ff"/><polygon points="540.2,115.4 513.7,99.6 513.7,131.2" fill="#9600ff"/><polygon points="600.9,120.5 574.4,104.7 574.4,136.3" fill="#9600ff"/><polygon points="661.6,125 635.1,109.2 635.1,140.8" fill="#9600ff"/><polygon points="722.4,130.4 695.9,114.6 695.9,146.2" fill="#9600ff"/><polygon points="783.1,133.4 756.6,117.6 756.6,149.2" fill="#9600ff"/><polygon points="843.8,134.5 817.3,118.7 817.3,150.3" fill="#9600ff"/><polygon points="904.6,138.8 878.1,123 878.1,154.6" fill="#9600ff"/><polygon points="965.3,148.1 938.8,132.3 938.8,163.9" fill="#9600ff"/><polygon points="1026,161.2 999.5,145.4 999.5,177" fill="#9600ff"/><polygon points="1086.8,179.5 1060.3,163.7 1060.3,195.3" fill="#9600ff"/><polygon points="1147.5,195.8 1121,180 1121,211.6" fill="#9600ff"/><polygon points="1208.2,214.8 1181.7,199 1181.7,230.6" fill="#9600ff"/><polygon points="1269,244.6 1242.5,228.8 1242.5,260.4" fill="#9600ff"/><polygon points="1329.7,285.2 1303.2,269.4 1303.2,301" fill="#9600ff"/><polygon points="1390.4,346.3 1363.9,330.5 1363.9,362.1" fill="#9600ff"/><polygon points="1451.2,489.9 1424.7,474.1 1424.7,505.7" fill="#9600ff"/><polygon points="1511.9,611.3 1485.4,595.5 1485.4,627.1" fill="#9600ff"/><polygon points="1572.6,657.5 1546.1,641.7 1546.1,673.3" fill="#9600ff"/><polygon points="1633.4,671.3 1606.9,655.5 1606.9,687.1" fill="#9600ff"/><polygon points="1694.1,678.8 1667.6,663 1667.6,694.6" fill="#9600ff"/><polygon points="1754.8,684.8 1728.3,669 1728.3,700.6" fill="#9600ff"/><polygon points="1815.6,690.6 1789.1,674.8 1789.1,706.4" fill="#9600ff"/><polygon points="1876.3,694.5 1849.8,678.7 1849.8,710.3" fill="#9600ff"/><polygon points="1937,699.5 1910.5,683.7 1910.5,715.3" fill="#9600ff"/>
</g>
</g>
<g id="legend-symbols">
<path d="M360,674.5H485" stroke="#000000" stroke-width="8.0" fill="none"/><rect x="410.8" y="662.9" width="23.2" height="23.2" fill="#000000"/>
<path d="M360,740.8H485" stroke="#ff0000" stroke-width="8.0" fill="none"/><circle cx="422.4" cy="740.8" r="13" fill="#ff0000"/>
<path d="M360,807H485" stroke="#0000ff" stroke-width="8.0" fill="none"/><polygon points="422.4,789 438.4,816.5 406.4,816.5" fill="#0000ff"/>
<path d="M360,873.2H485" stroke="#ff00ff" stroke-width="8.0" fill="none"/><polygon points="422.4,891.2 438.4,863.8 406.4,863.8" fill="#ff00ff"/>
<path d="M360,939.5H485" stroke="#008000" stroke-width="8.0" fill="none"/><polygon points="422.4,922 437.4,939.5 422.4,957 407.4,939.5" fill="#008000"/>
<path d="M360,1005.8H485" stroke="#000080" stroke-width="8.0" fill="none"/><polygon points="405.4,1005.8 431.9,990 431.9,1021.5" fill="#000080"/>
<path d="M360,1072H485" stroke="#9600ff" stroke-width="8.0" fill="none"/><polygon points="439.4,1072 412.9,1056.2 412.9,1087.8" fill="#9600ff"/>
</g>
</g>
<g id="labels" filter="url(#softT)">
<g id="ylabels" class="tick" text-anchor="end">
<text transform="translate(242.5,1193.5) scale(1,1.04)">20</text><text transform="translate(242.5,1057.9) scale(1,1.04)">30</text><text transform="translate(242.5,922.3) scale(1,1.04)">40</text><text transform="translate(242.5,786.8) scale(1,1.04)">50</text><text transform="translate(242.5,651.2) scale(1,1.04)">60</text><text transform="translate(242.5,515.6) scale(1,1.04)">70</text><text transform="translate(242.5,380.1) scale(1,1.04)">80</text><text transform="translate(242.5,244.5) scale(1,1.04)">90</text><text transform="translate(242.5,109) scale(1,1.04)">100</text>
</g>
<g id="xlabels" class="tick" text-anchor="middle">
<text transform="translate(432.1,1257.3) scale(1,1.07)">100</text><text transform="translate(735.7,1257.3) scale(1,1.07)">200</text><text transform="translate(1039.4,1257.3) scale(1,1.07)">300</text><text transform="translate(1343.1,1257.3) scale(1,1.07)">400</text><text transform="translate(1646.7,1257.3) scale(1,1.07)">500</text><text transform="translate(1950.4,1257.3) scale(1,1.07)">600</text>
</g>
<text class="ttl" y="1311"><tspan x="886" textLength="312.6" lengthAdjust="spacing">Temperature</tspan><tspan x="1202.2"> (</tspan><tspan class="deg" x="1234.5" style="font-size:47px">℃</tspan><tspan x="1285.5">)</tspan></text>
<text class="ttl" style="font-size:54px" transform="translate(148.5,712.5) rotate(-90)">Weight (%)</text>
<g id="legend-text" class="leg">
<text x="496.5" y="692">C40S1.5</text>
<text x="496.5" y="758.2">L20C20S1.5</text>
<text x="496.5" y="824.5">L40S1.5</text>
<text x="496.5" y="890.8">L20C20Z2S1.5</text>
<text x="496.5" y="957">L20C20Z4S1.5</text>
<text x="496.5" y="1023.2">L20C20Z6S1.5</text>
<text x="496.5" y="1089.5">L20C20Z10S1.5</text>
</g>
</g>
</svg>
</body>
</html>
